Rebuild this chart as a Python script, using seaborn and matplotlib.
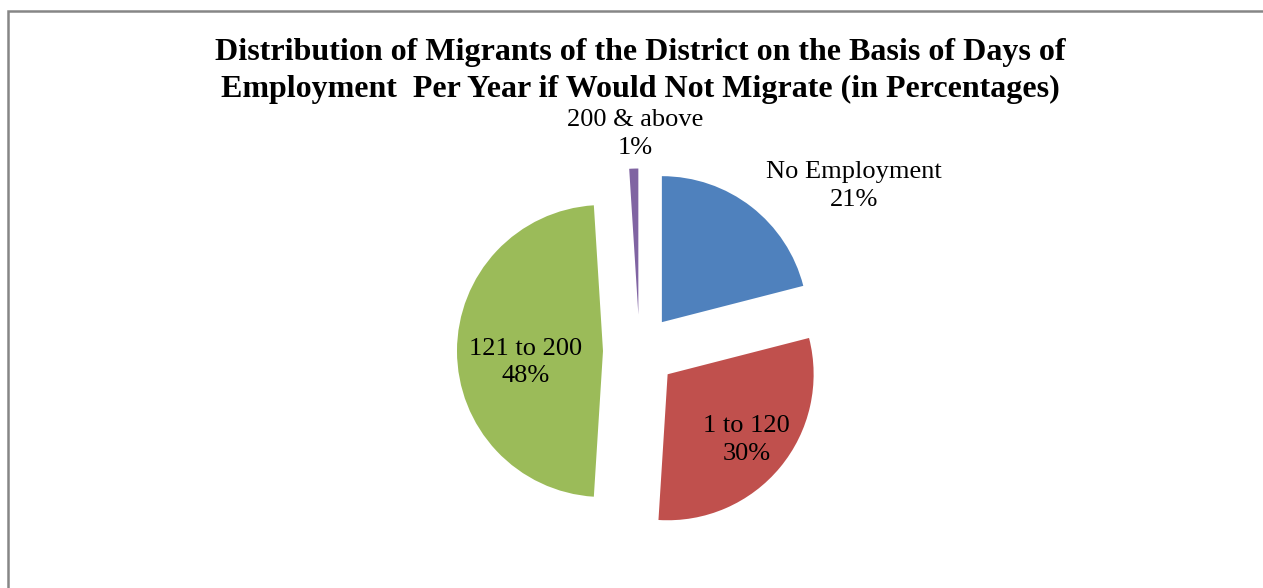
import numpy as np
import matplotlib
matplotlib.use("Agg")
import matplotlib.pyplot as plt
from matplotlib.patches import Rectangle
import seaborn as sns

categories = ["No Employment", "1 to 120", "121 to 200", "200 & above"]
shares = [21, 30, 48, 1]
# label anchor offsets from the pie centre, in pie-radius units
label_offsets = [(1.469, 1.130), (0.733, -0.610), (-0.777, -0.079), (-0.031, 1.486)]

sns.set_theme(style="white")
plt.rcParams["font.family"] = ["Liberation Serif", "DejaVu Serif"]
plt.rcParams["text.color"] = "black"
palette = sns.color_palette(["#4F81BD", "#C0504D", "#9BBB59", "#8064A2"])

W, H = 1263, 588
fig = plt.figure(figsize=(W / 100, H / 100), dpi=100)
fig.patch.set_facecolor("white")

ax = fig.add_axes([0, 0, 1, 1])
radius_px = 146.0
cx_px, cy_px = 639.5, 351.0
wedges, _ = ax.pie(
    shares,
    colors=palette,
    startangle=90,
    counterclock=False,
    explode=[0.25] * len(shares),
    radius=1.0,
    wedgeprops=dict(linewidth=0),
)
ax.set_aspect("auto")
ax.set_xlim(-cx_px / radius_px, (W - cx_px) / radius_px)
ax.set_ylim(-(H - cy_px) / radius_px, cy_px / radius_px)
ax.axis("off")

for name, val, (dx, dy) in zip(categories, shares, label_offsets):
    ax.text(dx, dy, f"{name}\n{val}%", ha="center", va="center",
            fontsize=19, color="black", linespacing=1.32)

fig.text(0.507, 0.879,
         "Distribution of Migrants of the District on the Basis of Days of\n"
         "Employment  Per Year if Would Not Migrate (in Percentages)",
         ha="center", va="center", fontsize=23, fontweight="bold",
         color="black", linespacing=1.38)

fig.add_artist(Rectangle((7.5 / W, -0.1), 1.2, (H - 10.5) / H + 0.1,
                         transform=fig.transFigure, fill=False,
                         edgecolor="#868686", linewidth=1.8))

fig.savefig("out.png", dpi=100, facecolor="white")
